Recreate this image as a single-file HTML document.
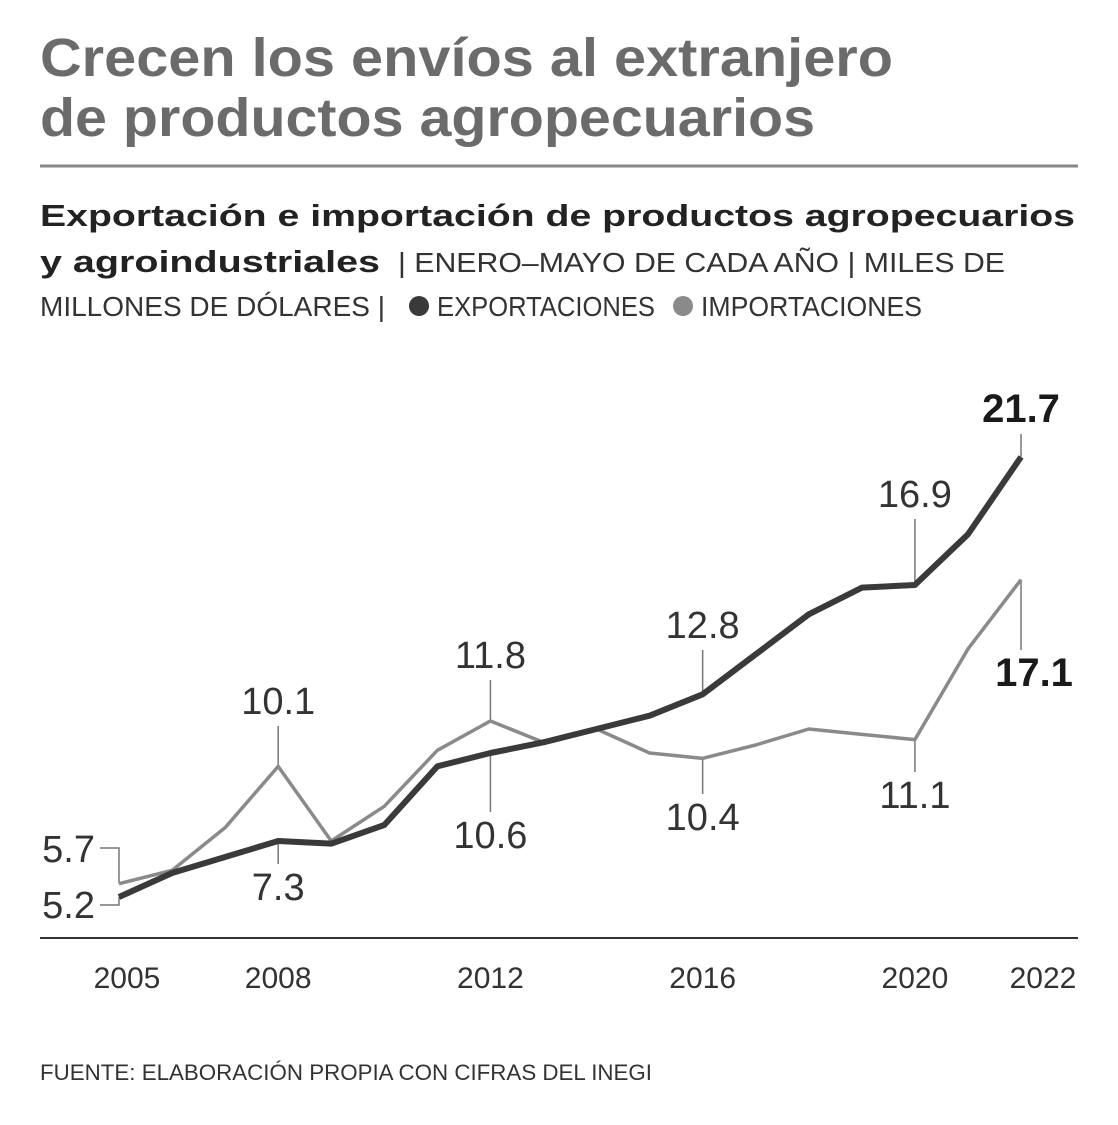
<!DOCTYPE html>
<html><head><meta charset="utf-8"><style>
body{margin:0;background:#fff;width:1118px;height:1120px;overflow:hidden;font-family:"Liberation Sans",sans-serif}
</style></head><body>
<svg width="1118" height="1120" xmlns="http://www.w3.org/2000/svg" style="font-family:'Liberation Sans',sans-serif">
<text x="40" y="76" font-size="54" font-weight="bold" fill="#6b6b6b" textLength="853" lengthAdjust="spacingAndGlyphs">Crecen los envíos al extranjero</text>
<text x="40" y="136" font-size="54" font-weight="bold" fill="#6b6b6b" textLength="775" lengthAdjust="spacingAndGlyphs">de productos agropecuarios</text>
<line x1="40" y1="166" x2="1078" y2="166" stroke="#888" stroke-width="3"/>
<text x="40" y="226" font-size="31" font-weight="bold" fill="#222" textLength="1035" lengthAdjust="spacingAndGlyphs">Exportación e importación de productos agropecuarios</text>
<text x="40" y="272" font-size="31" font-weight="bold" fill="#222" textLength="340" lengthAdjust="spacingAndGlyphs">y agroindustriales</text>
<text x="398" y="272" font-size="28" fill="#333" textLength="607" lengthAdjust="spacingAndGlyphs">| ENERO–MAYO DE CADA AÑO | MILES DE</text>
<text x="40" y="316" font-size="28" fill="#333" textLength="345" lengthAdjust="spacingAndGlyphs">MILLONES DE DÓLARES |</text>
<circle cx="419" cy="306" r="10" fill="#3a3a3a"/>
<text x="437" y="316" font-size="28" fill="#333" textLength="218" lengthAdjust="spacingAndGlyphs">EXPORTACIONES</text>
<circle cx="683" cy="306" r="10" fill="#8a8a8a"/>
<text x="701" y="316" font-size="28" fill="#333" textLength="221" lengthAdjust="spacingAndGlyphs">IMPORTACIONES</text>
<line x1="40" y1="938" x2="1078" y2="938" stroke="#333" stroke-width="2"/>
<g id="ticks"></g>
<g id="leaders"></g>
<g id="lines"></g>
<g id="labels"></g>
<text x="40" y="1080" font-size="22" fill="#333" textLength="612" lengthAdjust="spacingAndGlyphs">FUENTE: ELABORACIÓN PROPIA CON CIFRAS DEL INEGI</text>
</svg>
<script>
const years=[2005,2006,2007,2008,2009,2010,2011,2012,2013,2014,2015,2016,2017,2018,2019,2020,2021,2022];
const exportsV=[5.2,6.1,6.7,7.3,7.2,7.9,10.1,10.6,11.0,11.5,12.0,12.8,14.3,15.8,16.8,16.9,18.8,21.7];
const importsV=[5.7,6.2,7.8,10.1,7.3,8.6,10.7,11.8,11.0,11.5,10.6,10.4,10.9,11.5,11.3,11.1,14.5,17.1];
const tickYears=[2005,2008,2012,2016,2020,2022];
const NS="http://www.w3.org/2000/svg";
const X=y=>119+(y-2005)*53.06;
const Y=v=>1035.7-v*26.67;
function mk(tag,attrs,parent){const e=document.createElementNS(NS,tag);for(const k in attrs)e.setAttribute(k,attrs[k]);document.getElementById(parent).appendChild(e);return e;}
tickYears.forEach(t=>{const xx=t==2005?127:(t==2022?1043:X(t));const e=mk('text',{x:xx,y:988,'font-size':30,fill:'#333','text-anchor':'middle'},'ticks');e.textContent=t;

});
function line(vals,color,w,name){const d=vals.map((v,i)=>(i?'L':'M')+X(years[i])+' '+Y(v)).join(' ');const p=mk('path',{d:d,fill:'none',stroke:color,'stroke-width':w,'stroke-linejoin':'round'},'lines');

}
line(importsV,'#8a8a8a',3.5,'imports-line');
line(exportsV,'#3a3a3a',6,'exports-line');
const ann=[['e',17,422,1,1],['e',15,507,1,0],['e',11,638,1,0],['i',7,668,1,0],['i',3,714,1,0],['e',3,900,0,0],['e',7,848,0,0],['i',11,830,0,0],['i',15,808,0,0],['i',17,686,0,1]];
ann.forEach(a=>{const vals=a[0]=='e'?exportsV:importsV;const v=vals[a[1]];const x=X(years[a[1]]);const py=Y(v);
let lx=x;if(a[1]==17&&a[0]=='i')lx=x+13;
const y1=a[3]?a[2]+12:a[2]-36;
const l=mk('line',{x1:x,y1:y1,x2:x,y2:py,stroke:'#777','stroke-width':1.5},'leaders');


const t=mk('text',{x:lx,y:a[2],'font-size':a[4]?40:38,'font-weight':a[4]?'bold':'normal',fill:a[4]?'#1a1a1a':'#333','text-anchor':'middle'},'labels');t.textContent=v.toFixed(1);

});
[[importsV[0],862,848],[exportsV[0],918,905]].forEach(s=>{const t=mk('text',{x:95,y:s[1],'font-size':38,fill:'#333','text-anchor':'end'},'labels');t.textContent=s[0].toFixed(1);


const p=mk('path',{d:'M100 '+s[2]+' L119 '+s[2]+' L119 '+Y(s[0]),fill:'none',stroke:'#777','stroke-width':1.5},'leaders');

});
</script>
</body></html>
